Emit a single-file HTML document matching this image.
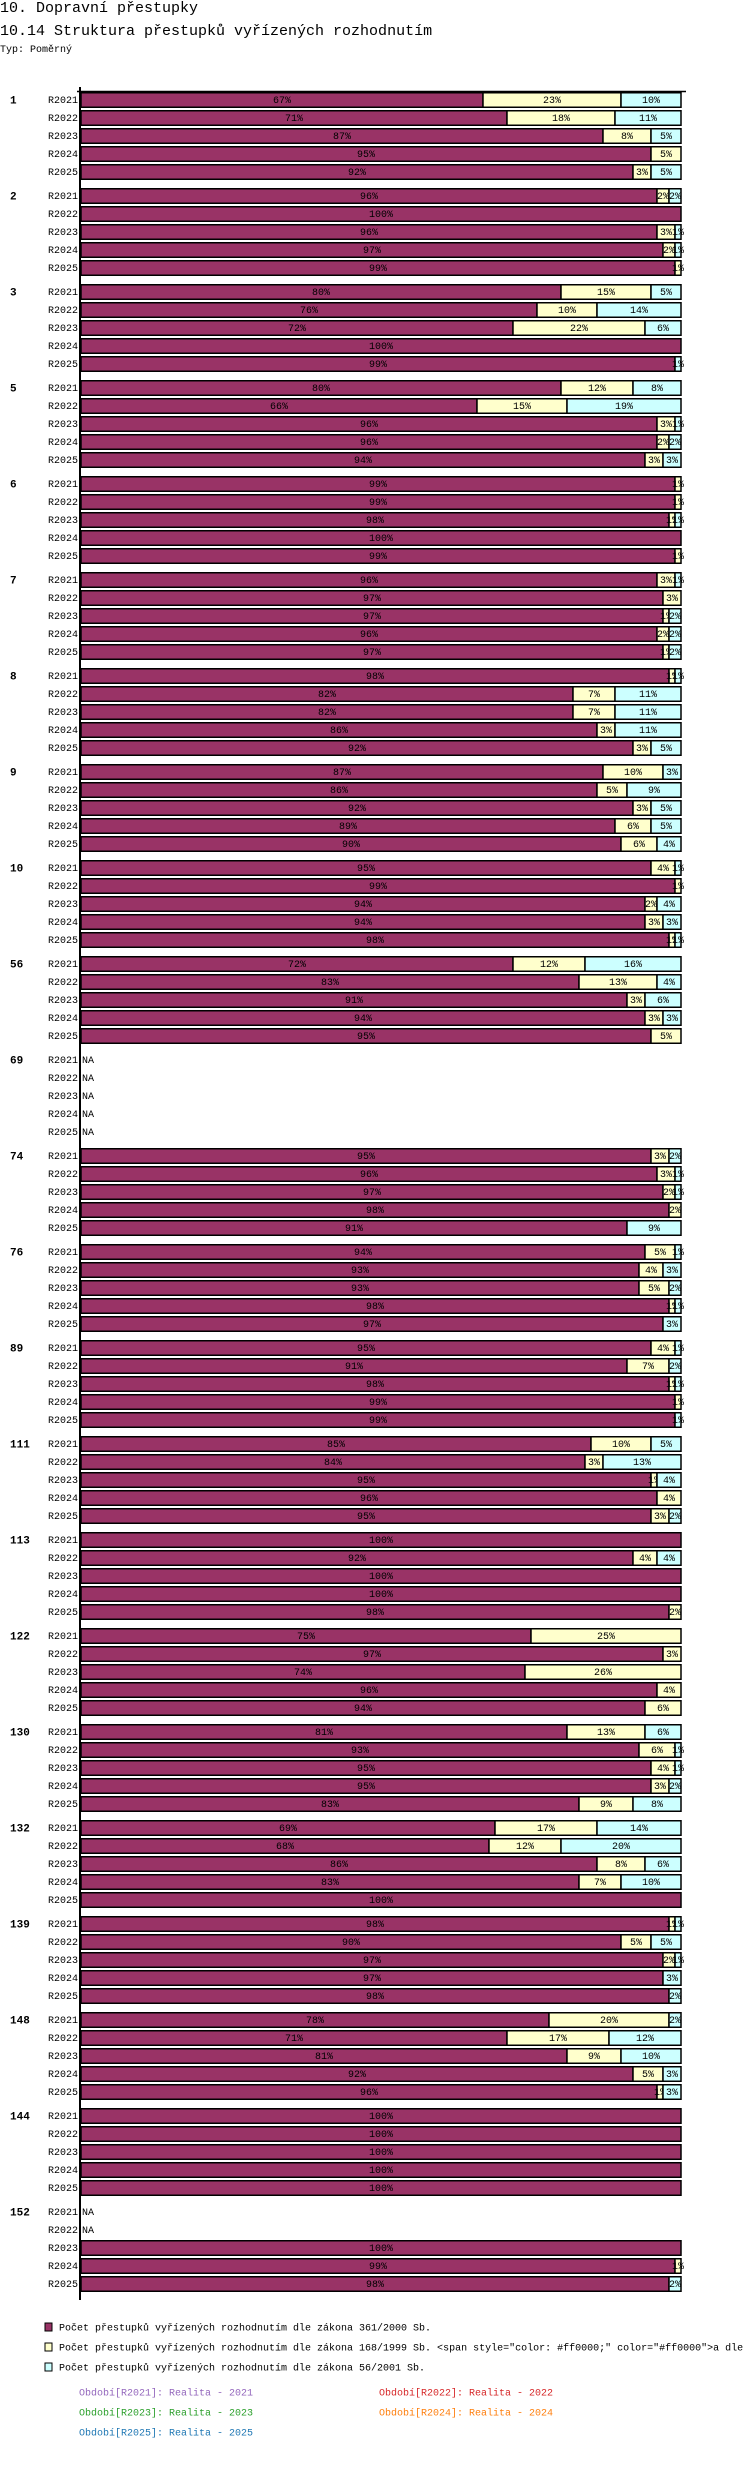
<!DOCTYPE html>
<html><head><meta charset="utf-8">
<style>
body{margin:0;background:#fff;width:750px;height:2490px;overflow:hidden;position:relative;font-family:"Liberation Mono",monospace;}
.t{position:absolute;left:0;white-space:nowrap;color:#000;}
</style></head>
<body>
<div class="t" style="top:0px;font-size:15px;">10. Dopravní přestupky</div>
<div class="t" style="top:23px;font-size:15px;">10.14 Struktura přestupků vyřízených rozhodnutím</div>
<div class="t" style="top:45px;font-size:10px;">Typ: Poměrný</div>
<svg id="chart" width="750" height="2490" style="position:absolute;left:0;top:0" xmlns="http://www.w3.org/2000/svg"></svg>
<script>
const groups=["1","2","3","5","6","7","8","9","10","56","69","74","76","89","111","113","122","130","132","139","148","144","152"];
const periods=["R2021","R2022","R2023","R2024","R2025"];
const s361=[[67,71,87,95,92],[96,100,96,97,99],[80,76,72,100,99],[80,66,96,96,94],[99,99,98,100,99],[96,97,97,96,97],[98,82,82,86,92],[87,86,92,89,90],[95,99,94,94,98],[72,83,91,94,95],[null,null,null,null,null],[95,96,97,98,91],[94,93,93,98,97],[95,91,98,99,99],[85,84,95,96,95],[100,92,100,100,98],[75,97,74,96,94],[81,93,95,95,83],[69,68,86,83,100],[98,90,97,97,98],[78,71,81,92,96],[100,100,100,100,100],[null,null,100,99,98]];
const s168=[[23,18,8,5,3],[2,0,3,2,1],[15,10,22,0,0],[12,15,3,2,3],[1,1,1,0,1],[3,3,1,2,1],[1,7,7,3,3],[10,5,3,6,6],[4,1,2,3,1],[12,13,3,3,5],[null,null,null,null,null],[3,3,2,2,0],[5,4,5,1,0],[4,7,1,1,0],[10,3,1,4,3],[0,4,0,0,2],[25,3,26,4,6],[13,6,4,3,9],[17,12,8,7,0],[1,5,2,0,0],[20,17,9,5,1],[0,0,0,0,0],[null,null,0,1,0]];
const s56=[[10,11,5,0,5],[2,0,1,1,0],[5,14,6,0,1],[8,19,1,2,3],[0,0,1,0,0],[1,0,2,2,2],[1,11,11,11,5],[3,9,5,5,4],[1,0,4,3,1],[16,4,6,3,0],[null,null,null,null,null],[2,1,1,0,9],[1,3,2,1,3],[1,2,1,0,1],[5,13,4,0,2],[0,4,0,0,0],[0,0,0,0,0],[6,1,1,2,8],[14,20,6,10,0],[1,5,1,3,2],[2,12,10,3,3],[0,0,0,0,0],[null,null,0,0,2]];
const svg=document.getElementById('chart');
const NS='http://www.w3.org/2000/svg';
const X0=81,W=600,TOP=92,GP=96,RP=18,BH=15;
const xs=v=>v/100*W;
const yRow=(g,r)=>TOP+g*GP+r*RP;
function mk(tag,attrs){const e=document.createElementNS(NS,tag);for(const k in attrs)e.setAttribute(k,attrs[k]);svg.appendChild(e);return e;}
const colors=["#993366","#ffffcc","#ccffff"];
groups.forEach((g,gi)=>{
  const gl=mk('text',{x:10,y:yRow(gi,0)+BH/2+4,'font-size':'11','font-weight':'bold','font-family':'Liberation Mono, monospace'});
  gl.textContent=g;
  
  
  periods.forEach((p,ri)=>{
    const y=yRow(gi,ri);
    const pl=mk('text',{x:78,y:y+BH/2+3.5,'font-size':'10','text-anchor':'end','font-family':'Liberation Mono, monospace'});
    pl.textContent=p;
    
    
    const vals=[s361[gi][ri],s168[gi][ri],s56[gi][ri]];
    if(vals[0]===null){
      const na=mk('text',{x:82,y:y+BH/2+3.5,'font-size':'10','font-family':'Liberation Mono, monospace'});
      na.textContent='NA';
      
      
      return;
    }
    let cx=X0;
    vals.forEach((v,si)=>{
      if(!v)return;
      const w=xs(v);
      const r=mk('rect',{x:cx,y:y+0.75,width:w,height:BH-0.5,fill:colors[si],stroke:'#000','stroke-width':'1.5'});
      
      
      const t=mk('text',{x:cx+w/2,y:y+BH/2+3.5,'font-size':'10','text-anchor':'middle','font-family':'Liberation Mono, monospace'});
      t.textContent=v+'%';
      
      
      cx+=w;
    });
  });
});
const ax=mk('line',{x1:80,y1:87,x2:80,y2:2300,stroke:'#000','stroke-width':'2'});


const tx=mk('line',{x1:77,y1:91.5,x2:686,y2:91.5,stroke:'#000','stroke-width':'1.5'});


const legendTexts=["Počet přestupků vyřízených rozhodnutím dle zákona 361/2000 Sb.","Počet přestupků vyřízených rozhodnutím dle zákona 168/1999 Sb. <span style=\"color: #ff0000;\" color=\"#ff0000\">a dle","Počet přestupků vyřízených rozhodnutím dle zákona 56/2001 Sb."];
legendTexts.forEach((s,i)=>{
  const y=2327+i*20;
  const r=mk('rect',{x:45,y:y-4,width:7,height:8,fill:colors[i],stroke:'#000','stroke-width':'1'});
  
  
  const t=mk('text',{x:59,y:y+3.5,'font-size':'10','font-family':'Liberation Mono, monospace'});
  t.textContent=s;
  
  
});
const per=[["Období[R2021]: Realita - 2021","#9467bd",79,2392],["Období[R2022]: Realita - 2022","#d62728",379,2392],["Období[R2023]: Realita - 2023","#2ca02c",79,2412],["Období[R2024]: Realita - 2024","#ff7f0e",379,2412],["Období[R2025]: Realita - 2025","#1f77b4",79,2432]];
per.forEach((p,i)=>{
  const t=mk('text',{x:p[2],y:p[3]+3.5,'font-size':'10',fill:p[1],'font-family':'Liberation Mono, monospace'});
  t.textContent=p[0];
  
  
});
</script>
</body></html>
